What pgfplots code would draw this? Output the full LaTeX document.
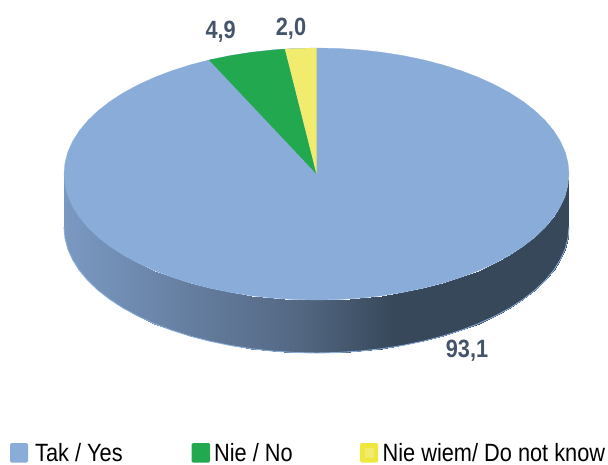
\documentclass[border=0pt]{standalone}
\usepackage{pgfplots}
\usepackage{fontspec}
\pgfplotsset{compat=1.18}
\setmainfont[FakeStretch=0.87]{Liberation Sans}
\definecolor{blue1}{HTML}{8AACD9}
\definecolor{green1}{HTML}{22A950}
\definecolor{yellow1}{HTML}{F2EC6E}
\definecolor{yellow2}{HTML}{EFE83C}
\definecolor{slate}{HTML}{44546A}
\definecolor{wa}{HTML}{7A99C2}
\definecolor{wb}{HTML}{536782}
\definecolor{wc}{HTML}{37485A}
\pgfplotstableread{
x y
316.5 416
338.5 415.5
360.3 414.1
381.9 411.7
402.9 408.4
423.2 404.2
442.8 399.1
461.3 393.2
478.8 386.5
495.0 379.1
509.9 371.0
523.3 362.3
535.2 353
545.3 343.3
553.8 333.1
560.4 322.6
565.2 311.9
568.0 301
569.0 290
568.0 279.0
565.2 268.1
560.4 257.4
553.8 246.9
545.3 236.7
535.2 227.0
523.3 217.7
509.9 209.0
495.0 200.9
478.8 193.5
461.3 186.8
442.8 180.9
423.2 175.8
402.9 171.6
381.9 168.3
360.3 165.9
338.5 164.5
316.5 164.0
294.5 164.5
272.7 165.9
251.1 168.3
230.1 171.6
209.8 175.8
190.3 180.9
171.7 186.8
154.2 193.5
138.0 200.9
123.1 209.0
109.7 217.7
97.8 227.0
87.7 236.7
79.2 246.9
72.6 257.4
67.8 268.1
65.0 279.0
64.0 290
65.0 301
67.8 311.9
72.6 322.6
79.2 333.1
87.7 343.3
97.8 353
109.7 362.3
123.1 371.0
138.0 379.1
154.2 386.5
171.7 393.2
190.3 399.1
209.8 404.2
230.1 408.4
251.1 411.7
272.7 414.1
294.5 415.5
316.5 416
}\toptable
\pgfplotstableread{
x y
64.0 290
64.0 237
65.0 279.0
65.0 226.0
67.8 268.1
67.8 215.1
72.6 257.4
72.6 204.4
79.2 246.9
79.2 193.9
87.7 236.7
87.7 183.7
97.8 227.0
97.8 174.0
109.7 217.7
109.7 164.7
123.1 209.0
123.1 156.0
138.0 200.9
138.0 147.9
154.2 193.5
154.2 140.5
171.7 186.8
171.7 133.8
190.3 180.9
190.3 127.9
209.8 175.8
209.8 122.8
230.1 171.6
230.1 118.6
251.1 168.3
251.1 115.3
272.7 165.9
272.7 112.9
294.5 164.5
294.5 111.5
316.5 164.0
316.5 111.0
338.5 164.5
338.5 111.5
360.3 165.9
360.3 112.9
381.9 168.3
381.9 115.3
402.9 171.6
402.9 118.6
423.2 175.8
423.2 122.8
442.8 180.9
442.8 127.9
461.3 186.8
461.3 133.8
478.8 193.5
478.8 140.5
495.0 200.9
495.0 147.9
509.9 209.0
509.9 156.0
523.3 217.7
523.3 164.7
535.2 227.0
535.2 174.0
545.3 236.7
545.3 183.7
553.8 246.9
553.8 193.9
560.4 257.4
560.4 204.4
565.2 268.1
565.2 215.1
568.0 279.0
568.0 226.0
569.0 290
569.0 237
}\walltable
\pgfplotstableread{
x y
64.0 237
65.0 226.0
67.8 215.1
72.6 204.4
79.2 193.9
87.7 183.7
97.8 174.0
109.7 164.7
123.1 156.0
138.0 147.9
154.2 140.5
171.7 133.8
190.3 127.9
209.8 122.8
230.1 118.6
251.1 115.3
272.7 112.9
294.5 111.5
316.5 111.0
338.5 111.5
360.3 112.9
381.9 115.3
402.9 118.6
423.2 122.8
442.8 127.9
461.3 133.8
478.8 140.5
495.0 147.9
509.9 156.0
523.3 164.7
535.2 174.0
545.3 183.7
553.8 193.9
560.4 204.4
565.2 215.1
568.0 226.0
569.0 237
}\edgetable
\begin{document}
\begin{tikzpicture}
\path[use as bounding box] (0,0) rectangle (608pt,464pt);
\begin{axis}[at={(0,0)},anchor=south west,scale only axis,width=608pt,height=464pt,
  xmin=0,xmax=608,ymin=0,ymax=464,axis lines=none,clip=false,
  colormap={wall}{color(0)=(wa) color(236)=(wb) color(330)=(wc) color(505)=(wc)},
  point meta min=64,point meta max=569]
\addplot[surf,shader=interp,mesh/cols=2,point meta=x] table[x=x,y=y] {\walltable};
\addplot[color=blue1,line width=0.9pt] table[x=x,y=y] {\edgetable};
\addplot[fill=blue1,draw=blue1,line width=0.3pt] table[x=x,y=y] {\toptable} -- cycle;
\addplot[fill=green1,draw=none] coordinates {(316.5,290) (284.9,415) (272.7,414.1) (251.1,411.7) (230.1,408.4) (209.8,404.2) (209.0,404.0)} -- cycle;
\addplot[fill=yellow1,draw=none] coordinates {(316.5,290) (316.5,416) (294.5,415.5) (284.9,415)} -- cycle;
\addplot[fill=blue1,rounded corners=1.5pt,draw=none] coordinates {(10,1.5) (28,1.5) (28,21) (10,21)} -- cycle;
\addplot[fill=green1,rounded corners=1.5pt,draw=none] coordinates {(191.5,1.5) (210,1.5) (210,21) (191.5,21)} -- cycle;
\addplot[fill=yellow2,rounded corners=1.5pt,draw=none] coordinates {(360,1.5) (378,1.5) (378,21) (360,21)} -- cycle;
\addplot[fill=yellow1,draw=none] coordinates {(365,6) (374,6) (374,16) (365,16)} -- cycle;
\node[font=\fontsize{25}{25}\selectfont\bfseries,text=slate,inner sep=0pt,anchor=base] at (axis cs:467,107) {93,1};
\node[font=\fontsize{25}{25}\selectfont\bfseries,text=slate,inner sep=0pt,anchor=base] at (axis cs:220.7,425) {4,9};
\node[font=\fontsize{25}{25}\selectfont\bfseries,text=slate,inner sep=0pt,anchor=base] at (axis cs:291,428) {2,0};
\node[font=\fontsize{25}{25}\selectfont,anchor=base west,inner sep=0pt] at (axis cs:35,3) {Tak / Yes};
\node[font=\fontsize{25}{25}\selectfont,anchor=base west,inner sep=0pt] at (axis cs:214,3) {Nie / No};
\node[font=\fontsize{25}{25}\selectfont,anchor=base west,inner sep=0pt] at (axis cs:382.5,3) {Nie wiem/ Do not know};
\end{axis}
\end{tikzpicture}
\end{document}
